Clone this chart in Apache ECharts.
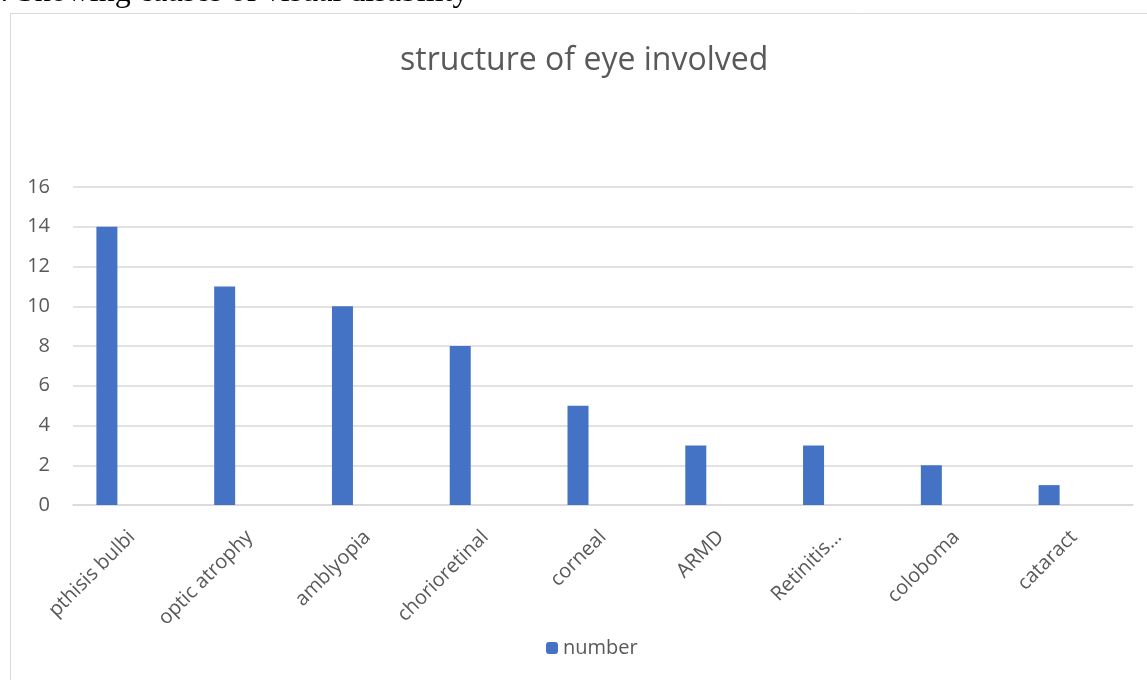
<!DOCTYPE html>
<html><head><meta charset="utf-8">
<script src="https://cdn.jsdelivr.net/npm/echarts@6/dist/echarts.min.js"></script>
<style>html,body{margin:0;padding:0;background:#fff}#c{width:1147px;height:680px}</style>
</head><body><div id="c"></div>
<script>
const categories = ['pthisis bulbi','optic atrophy','amblyopia','chorioretinal','corneal','ARMD','Retinitis…','coloboma','cataract'];
const numberValues = [14, 11, 10, 8, 5, 3, 3, 2, 1];
const yTicks = {min: 0, max: 16, interval: 2};
const titleText = 'structure of eye involved';
const captionText = ': Showing causes of visual disability';

const chart = echarts.init(document.getElementById('c'));
chart.setOption({
  animation: false,
  title: {text: titleText, left: 395, top: 40,
    textStyle: {fontFamily: 'Open Sans', fontSize: 32, fontWeight: 'normal', color: '#595959'}},
  graphic: [
    {type: 'rect', shape: {x: 10.5, y: 13.5, width: 1150, height: 680}, style: {fill: 'none', stroke: '#d9d9d9', lineWidth: 1}},
    {type: 'text', x: 0, y: 8.5, style: {text: captionText, fontFamily: 'Liberation Serif', fontSize: 32, fill: '#000', verticalAlign: 'bottom'}}
  ],
  legend: {bottom: 17, left: 541, data: ['number'], itemWidth: 12, itemHeight: 12, itemGap: 7,
    textStyle: {fontFamily: 'Open Sans', fontSize: 20, color: '#595959'}},
  grid: {left: 73, right: 14, top: 187, bottom: 175, containLabel: false},
  xAxis: {type: 'category', data: categories,
    axisLine: {lineStyle: {color: '#d9d9d9', width: 1.5}}, axisTick: {show: false},
    axisLabel: {rotate: 45, interval: 0, margin: 29, fontFamily: 'Open Sans', fontSize: 20, color: '#595959'}},
  yAxis: {type: 'value', min: yTicks.min, max: yTicks.max, interval: yTicks.interval,
    axisLine: {show: false}, axisTick: {show: false},
    splitLine: {lineStyle: {color: '#d9d9d9', width: 1.5}},
    axisLabel: {margin: 23, fontFamily: 'Open Sans', fontSize: 20, color: '#595959'}},
  series: [
    {name: 'number', type: 'bar', data: numberValues, barWidth: 21, barGap: '138%', itemStyle: {color: '#4472C4'}},
    {name: 'pad', type: 'bar', data: numberValues.map(() => null), barWidth: 21, itemStyle: {color: 'transparent'}}
  ]
});
</script></body></html>
